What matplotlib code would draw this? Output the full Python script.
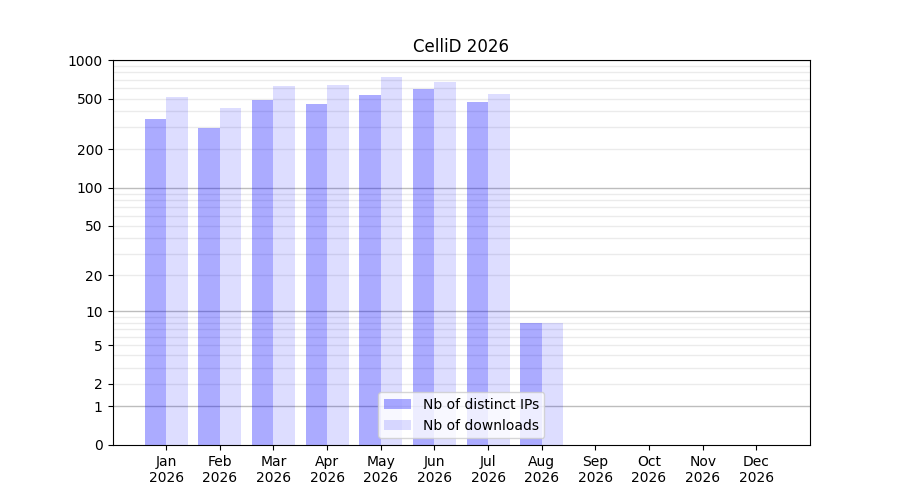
import numpy as np
import matplotlib
matplotlib.use("Agg")
import matplotlib.pyplot as plt
from matplotlib.ticker import FixedLocator, FixedFormatter

months = ["Jan\n2026", "Feb\n2026", "Mar\n2026", "Apr\n2026", "May\n2026", "Jun\n2026",
          "Jul\n2026", "Aug\n2026", "Sep\n2026", "Oct\n2026", "Nov\n2026", "Dec\n2026"]
distinct_ips = [346, 293, 486, 452, 532, 593, 469, 8, 0, 0, 0, 0]
downloads = [513, 421, 626, 640, 736, 673, 542, 8, 0, 0, 0, 0]
ytick_vals = [0, 1, 2, 5, 10, 20, 50, 100, 200, 500, 1000]
ytick_labels = ["0", "1", "2", "5", "10", "20", "50", "100", "200", "500", "1000"]
major_grid = [1, 10, 100, 1000]
minor_grid = [2, 3, 4, 5, 6, 7, 8, 9, 20, 30, 40, 50, 60, 70, 80, 90,
              200, 300, 400, 500, 600, 700, 800, 900]

fig, ax = plt.subplots(figsize=(9, 5), dpi=100)

def fwd(y):
    return np.log10(np.clip(y, 0, None) + 1)

def inv(y):
    return 10 ** y - 1

ax.set_yscale("function", functions=(fwd, inv))

x = np.arange(len(months))
w = 0.4
ax.bar(x - w / 2, distinct_ips, w, color="blue", alpha=0.33, label="Nb of distinct IPs", zorder=2)
ax.bar(x + w / 2, downloads, w, color="blue", alpha=0.135, label="Nb of downloads", zorder=2)

for v in major_grid:
    ax.axhline(v, color="#bdbdbd", lw=1, zorder=1)

ax.yaxis.remove_overlapping_locs = False
ax.yaxis.set_major_locator(FixedLocator(ytick_vals))
ax.yaxis.set_major_formatter(FixedFormatter(ytick_labels))
ax.yaxis.set_minor_locator(FixedLocator(minor_grid))
ax.tick_params(axis="y", which="minor", length=0)
ax.grid(True, axis="y", which="minor", color="#ebebeb", lw=1, zorder=0)
ax.set_axisbelow(True)

ax.set_ylim(0, 1000)
ax.set_xlim(-1, 12)
ax.set_xticks(x)
ax.set_xticklabels(months)
ax.set_title("CelliD 2026")
ax.legend(loc="lower center")

fig.savefig("out.png", dpi=100)
